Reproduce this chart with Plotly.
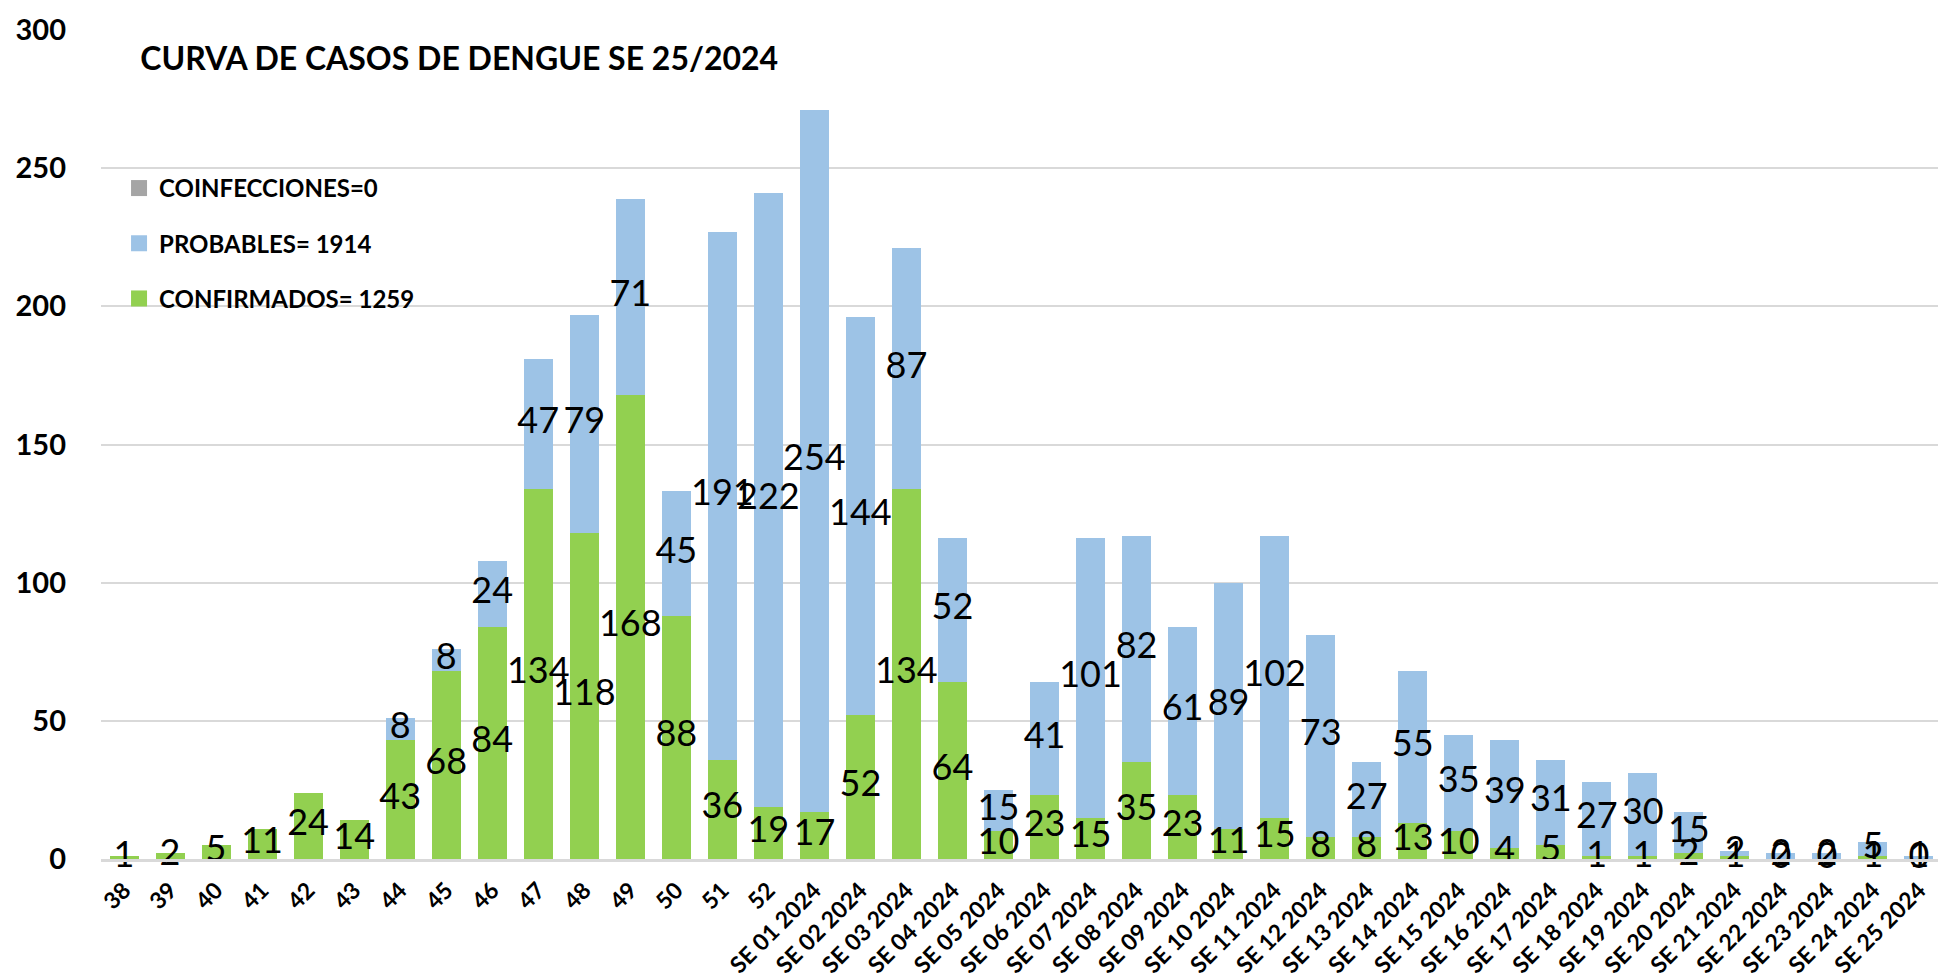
import plotly.graph_objects as go

weeks = [str(w) for w in range(38, 53)] + ["SE %02d 2024" % i for i in range(1, 26)]

confirmados = [1, 2, 5, 11, 24, 14, 43, 68, 84, 134, 118, 168, 88, 36, 19,
               17, 52, 134, 64, 10, 23, 15, 35, 23, 11, 15, 8, 8, 13, 10,
               4, 5, 1, 1, 2, 1, 0, 0, 1, 0]
probables = [None, None, None, None, None, None, 8, 8, 24, 47, 79, 71, 45, 191, 222,
             254, 144, 87, 52, 15, 41, 101, 82, 61, 89, 102, 73, 27, 55, 35,
             39, 31, 27, 30, 15, 2, 2, 2, 5, 1]
coinfecciones = [0] * len(weeks)

legend_names = ["COINFECCIONES=0", "PROBABLES= 1914", "CONFIRMADOS= 1259"]
title_text = "CURVA DE CASOS DE DENGUE SE 25/2024"

GREEN = "#92D050"
BLUE = "#9DC3E6"
GREY = "#A5A5A5"
FONT = "Lato, Calibri, sans-serif"

prob_vals = [p if p is not None else 0 for p in probables]

fig = go.Figure()
fig.add_trace(go.Bar(x=weeks, y=confirmados, marker_color=GREEN, marker_line_width=0,
                     showlegend=False, hoverinfo="y"))
fig.add_trace(go.Bar(x=weeks, y=prob_vals, marker_color=BLUE, marker_line_width=0,
                     showlegend=False, hoverinfo="y"))
fig.add_trace(go.Bar(x=weeks, y=coinfecciones, marker_color=GREY, marker_line_width=0,
                     showlegend=False, hoverinfo="y"))

# legend entries (square swatches)
for name, col, grp in zip(legend_names, [GREY, BLUE, GREEN], ["g", "p", "c"]):
    fig.add_trace(go.Scatter(x=[None], y=[None], mode="markers", name="<b>" + name + "</b>",
                             marker=dict(symbol="square", size=18, color=col),
                             legendgroup=grp, showlegend=True, hoverinfo="skip"))

label_font = dict(family=FONT, size=36, color="#000000")
fig.add_trace(go.Scatter(x=weeks, y=[c / 2 for c in confirmados], mode="text",
                         text=[str(c) for c in confirmados], textfont=label_font,
                         textposition="middle center", showlegend=False,
                         cliponaxis=False, hoverinfo="skip"))
px, py, pt = [], [], []
for w, c, p in zip(weeks, confirmados, probables):
    if p is None:
        continue
    px.append(w)
    py.append(c + p / 2)
    pt.append(str(p))
fig.add_trace(go.Scatter(x=px, y=py, mode="text", text=pt, textfont=label_font,
                         textposition="middle center", showlegend=False,
                         cliponaxis=False, hoverinfo="skip"))

fig.update_layout(
    barmode="stack",
    bargap=0.37,
    width=1946, height=975,
    margin=dict(l=93, r=12, t=22, b=124),
    plot_bgcolor="#FFFFFF", paper_bgcolor="#FFFFFF",
    title=dict(text="<b>" + title_text + "</b>", x=0.068, xanchor="left",
               y=0.948, yanchor="middle",
               font=dict(family=FONT, size=32, color="#000000")),
    legend=dict(x=0.0098, y=0.836, xanchor="left", yanchor="top",
                traceorder="grouped", tracegroupgap=21,
                font=dict(family=FONT, size=24, color="#000000"),
                bgcolor="rgba(0,0,0,0)", itemwidth=30),
    showlegend=True,
)
fig.update_xaxes(type="category", range=[-0.5, len(weeks) - 0.5], tickangle=-45,
                 showgrid=False, automargin=False,
                 tickfont=dict(family=FONT, size=23, color="#000000", weight="bold"),
                 ticklabelstandoff=6,
                 showline=True, linecolor="#D9D9D9", linewidth=2.5, ticks="")
fig.update_yaxes(range=[0, 300], dtick=50, showgrid=True, gridcolor="#D9D9D9", gridwidth=1.5,
                 zeroline=False, showline=False, automargin=False,
                 tickfont=dict(family=FONT, size=29, color="#000000", weight="bold"),
                 ticklabelstandoff=34)

fig.write_html("out.html")
